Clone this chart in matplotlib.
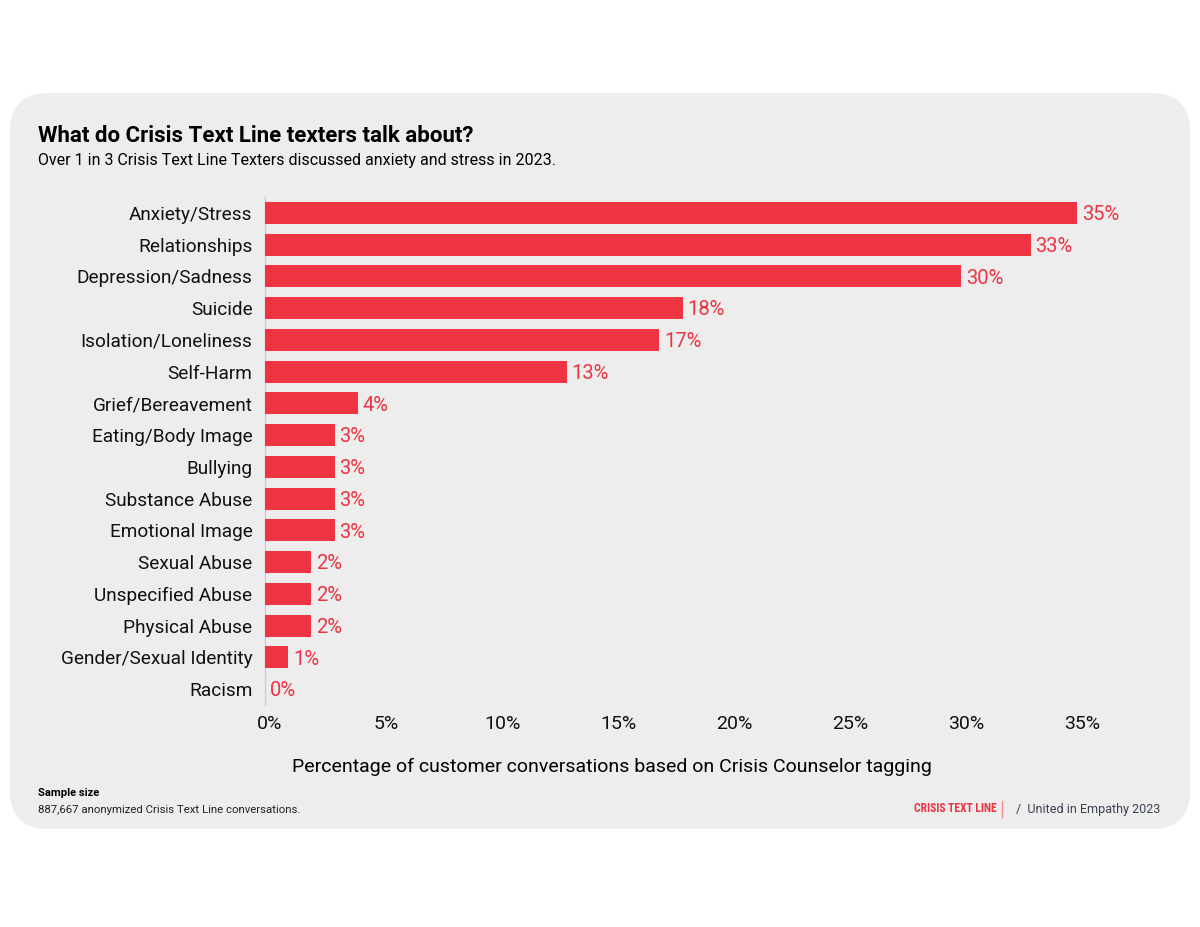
import matplotlib.pyplot as plt
import matplotlib.transforms as mtransforms
from matplotlib.patches import FancyBboxPatch
import numpy as np

plt.rcParams['font.family'] = ['Roboto', 'DejaVu Sans']

RED = "#ee3342"
PANEL = "#ededed"

# ---------- data ----------
categories = [
    "Anxiety/Stress", "Relationships", "Depression/Sadness", "Suicide",
    "Isolation/Loneliness", "Self-Harm", "Grief/Bereavement",
    "Eating/Body Image", "Bullying", "Substance Abuse", "Emotional Image",
    "Sexual Abuse", "Unspecified Abuse", "Physical Abuse",
    "Gender/Sexual Identity", "Racism",
]
values = [35, 33, 30, 18, 17, 13, 4, 3, 3, 3, 3, 2, 2, 2, 1, 0]
xticks = [0, 5, 10, 15, 20, 25, 30, 35]
xtick_labels = [f"{t}%" for t in xticks]

# ---------- figure ----------
fig = plt.figure(figsize=(12, 9.27), dpi=100)
fig.patch.set_facecolor("white")

# rounded grey card behind everything (inch coords so corners stay round)
card = FancyBboxPatch((0.10, 0.98), 11.80, 7.36,
                      boxstyle="round,pad=0,rounding_size=0.38",
                      transform=fig.dpi_scale_trans,
                      facecolor=PANEL, edgecolor="none", zorder=-5)
fig.patches.append(card)

ax = fig.add_axes([265 / 1200, 1 - 705 / 927, 812 / 1200, 508 / 927])
ax.set_facecolor("none")
ax.set_zorder(2)

ypos = np.arange(len(categories))
ax.barh(ypos, values, height=0.7, color=RED, zorder=3)
for y, v in zip(ypos, values):
    ax.annotate(f"{v}%", (v, y), xytext=(3.5, -1.2), textcoords="offset points",
                va="center", ha="left", color=RED, fontsize=14.5)

ax.set_xlim(0, 35)
ax.set_ylim(len(categories) - 0.5, -0.5)
ax.set_yticks(ypos)
ax.set_yticklabels(categories, fontsize=13.7, color="#111111")
ax.set_xticks(xticks)
ax.set_xticklabels(xtick_labels, fontsize=14, color="#111111")
ax.tick_params(axis="both", length=0)
ax.tick_params(axis="y", pad=9)
ax.tick_params(axis="x", pad=7)
# labels in the reference sit a little right of each tick
shift = mtransforms.ScaledTranslation(5 / 100, 0, fig.dpi_scale_trans)
for lbl in ax.get_xticklabels():
    lbl.set_transform(lbl.get_transform() + shift)
for side in ["top", "right", "bottom"]:
    ax.spines[side].set_visible(False)
ax.spines["left"].set_color("#dcc9cb")
ax.spines["left"].set_linewidth(1)

# ---------- text ----------
fig.text(38 / 1200, 1 - 136 / 927, "What do Crisis Text Line texters talk about?",
         fontsize=16, fontweight="bold", va="center", ha="left")
fig.text(38 / 1200, 1 - 161 / 927,
         "Over 1 in 3 Crisis Text Line Texters discussed anxiety and stress in 2023.",
         fontsize=11.55, va="center", ha="left")
fig.text(612 / 1200, 1 - 767 / 927,
         "Percentage of customer conversations based on Crisis Counselor tagging",
         fontsize=14, va="center", ha="center")
fig.text(38 / 1200, 1 - 793 / 927, "Sample size", fontsize=8.1,
         fontweight="bold", va="center", ha="left")
fig.text(38 / 1200, 1 - 810 / 927,
         "887,667 anonymized Crisis Text Line conversations.",
         fontsize=8.2, va="center", ha="left", color="#222222")
fig.text(997 / 1200, 1 - 809 / 927, "CRISIS TEXT LINE", fontsize=8.4,
         fontweight="bold", color=RED, va="center", ha="right",
         family=["Roboto Condensed", "Liberation Sans Narrow", "Roboto"],
         fontstretch="condensed")
fig.add_artist(plt.Line2D([1002 / 1200, 1002 / 1200],
                          [1 - 801 / 927, 1 - 817 / 927],
                          color="#f08a93", lw=1))
fig.text(1016 / 1200, 1 - 809 / 927, "/  United in Empathy 2023", fontsize=9,
         color="#3a4152", va="center", ha="left")

plt.savefig("out.png", dpi=100)
